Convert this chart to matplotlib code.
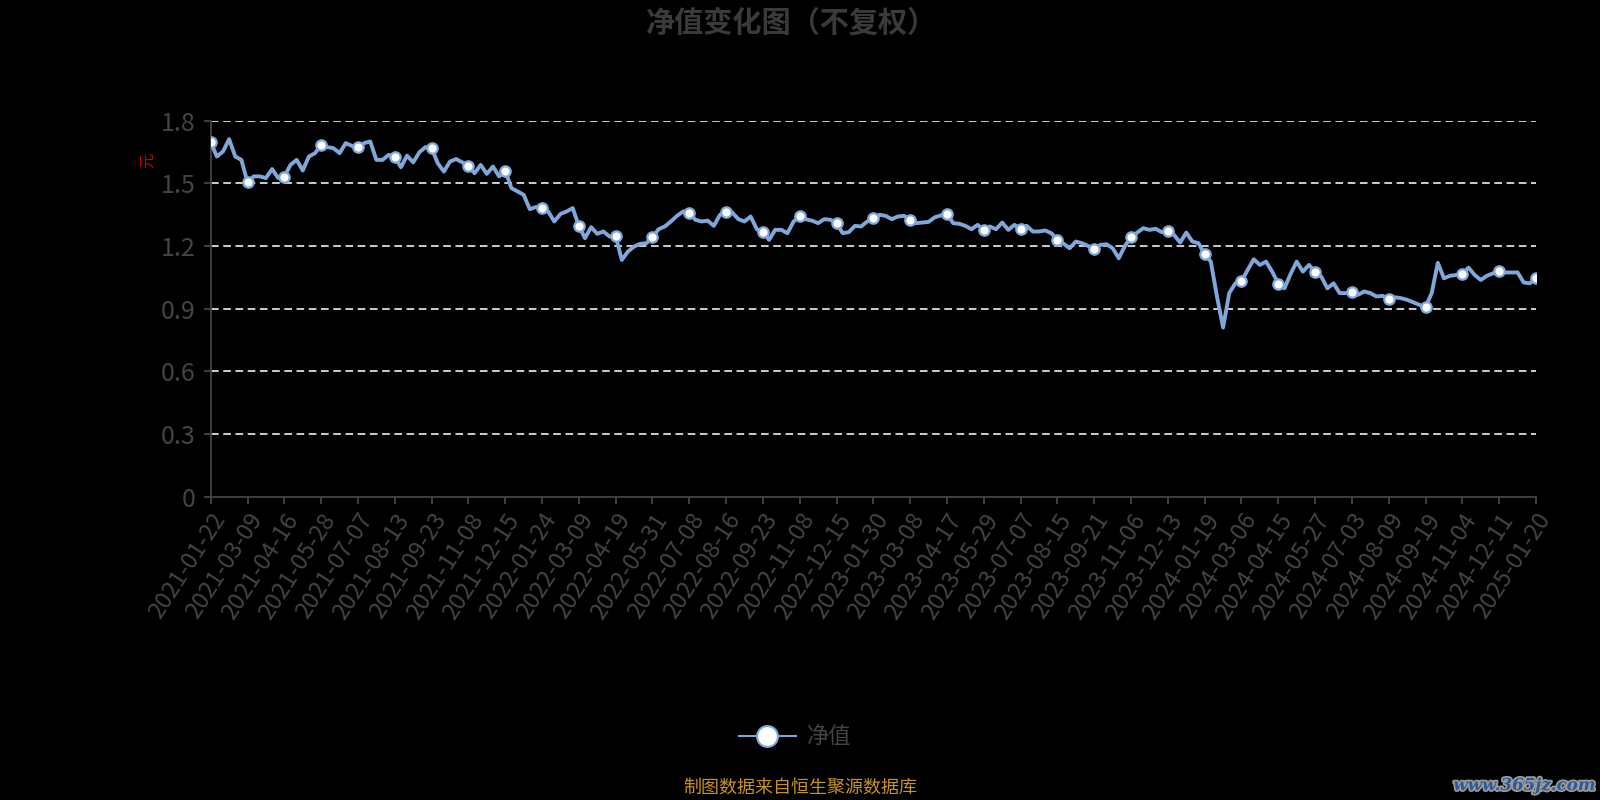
import matplotlib
matplotlib.use("Agg")
import matplotlib.pyplot as plt
import matplotlib.patheffects as pe

plt.rcParams['font.family'] = ['Noto Sans CJK SC', 'DejaVu Sans']
plt.rcParams['lines.scale_dashes'] = False

# tick dates (category axis, one marker per tick)
tick_dates = [
    "2021-01-22", "2021-03-09", "2021-04-16", "2021-05-28", "2021-07-07", "2021-08-13",
    "2021-09-23", "2021-11-08", "2021-12-15", "2022-01-24", "2022-03-09", "2022-04-19",
    "2022-05-31", "2022-07-08", "2022-08-16", "2022-09-23", "2022-11-08", "2022-12-15",
    "2023-01-30", "2023-03-08", "2023-04-17", "2023-05-29", "2023-07-07", "2023-08-15",
    "2023-09-21", "2023-11-06", "2023-12-13", "2024-01-19", "2024-03-06", "2024-04-15",
    "2024-05-27", "2024-07-03", "2024-08-09", "2024-09-19", "2024-11-04", "2024-12-11",
    "2025-01-20",
]
steps_per_tick = 6

# net value, 6 points per tick interval
nav = [
    1.698, 1.629, 1.653, 1.712, 1.629, 1.613,
    1.505, 1.534, 1.534, 1.526, 1.569, 1.526,
    1.533, 1.589, 1.613, 1.562, 1.629, 1.645,
    1.684, 1.674, 1.669, 1.645, 1.693, 1.680,
    1.674, 1.693, 1.701, 1.613, 1.613, 1.637,
    1.626, 1.578, 1.633, 1.601, 1.649, 1.674,
    1.669, 1.597, 1.557, 1.605, 1.617, 1.601,
    1.585, 1.549, 1.589, 1.546, 1.581, 1.534,
    1.562, 1.478, 1.462, 1.446, 1.377, 1.387,
    1.382, 1.366, 1.318, 1.354, 1.366, 1.382,
    1.297, 1.238, 1.291, 1.259, 1.270, 1.246,
    1.248, 1.134, 1.174, 1.198, 1.211, 1.214,
    1.243, 1.281, 1.294, 1.318, 1.345, 1.366,
    1.359, 1.326, 1.318, 1.322, 1.297, 1.350,
    1.364, 1.361, 1.329, 1.318, 1.342, 1.281,
    1.268, 1.230, 1.278, 1.278, 1.262, 1.318,
    1.342, 1.329, 1.322, 1.310, 1.329, 1.326,
    1.310, 1.262, 1.267, 1.297, 1.294, 1.318,
    1.335, 1.350, 1.345, 1.329, 1.342, 1.345,
    1.327, 1.310, 1.313, 1.316, 1.338, 1.347,
    1.356, 1.310, 1.307, 1.297, 1.281, 1.302,
    1.276, 1.294, 1.281, 1.313, 1.278, 1.302,
    1.281, 1.297, 1.270, 1.270, 1.275, 1.262,
    1.231, 1.211, 1.190, 1.222, 1.214, 1.201,
    1.185, 1.206, 1.209, 1.190, 1.142, 1.201,
    1.243, 1.265, 1.286, 1.278, 1.283, 1.267,
    1.273, 1.254, 1.217, 1.265, 1.222, 1.214,
    1.160, 1.126, 0.959, 0.810, 0.975, 1.022,
    1.034, 1.086, 1.137, 1.110, 1.126, 1.078,
    1.021, 0.998, 1.067, 1.126, 1.078, 1.110,
    1.077, 1.054, 0.998, 1.022, 0.975, 0.975,
    0.982, 0.967, 0.983, 0.975, 0.959, 0.962,
    0.947, 0.955, 0.951, 0.943, 0.931, 0.919,
    0.909, 0.975, 1.120, 1.046, 1.058, 1.062,
    1.067, 1.097, 1.062, 1.038, 1.058, 1.070,
    1.081, 1.074, 1.074, 1.074, 1.026, 1.022,
    1.047,
]
y_ticks = [0, 0.3, 0.6, 0.9, 1.2, 1.5, 1.8]
y_labels = ["0", "0.3", "0.6", "0.9", "1.2", "1.5", "1.8"]

line_color = "#7fa7da"
axis_color = "#444444"
text_color = "#444444"

fig = plt.figure(figsize=(16, 8), dpi=100, facecolor="black")
ax = fig.add_axes([0.1317, 0.379, 0.8283, 0.470])
ax.set_facecolor("black")

xs = list(range(len(nav)))
ax.plot(xs, nav, color=line_color, lw=2.8, zorder=3, solid_joinstyle="round")
mk = xs[::steps_per_tick]
ax.plot(mk, [nav[i] for i in mk], ls="none", marker="o", markersize=7.5,
        markerfacecolor="white", markeredgecolor=line_color, markeredgewidth=1.6, zorder=4)

for v in y_ticks[1:]:
    ax.axhline(v, color="#dddddd", lw=1.3, dashes=(5.5, 3.3), zorder=1)

ax.set_xlim(0, len(nav) - 1)
ax.set_ylim(0, 1.8)
ax.set_yticks(y_ticks)
ax.set_yticklabels(y_labels)
ax.set_xticks(mk)
ax.set_xticklabels(tick_dates, rotation=57, ha="right", va="top", rotation_mode="anchor")

for s in ["top", "right"]:
    ax.spines[s].set_visible(False)
for s in ["left", "bottom"]:
    ax.spines[s].set_color(axis_color)
    ax.spines[s].set_linewidth(1.3)
ax.tick_params(axis="both", colors=axis_color, length=5, width=1.3)
ax.tick_params(axis="y", labelsize=18, labelcolor=text_color, pad=6)
ax.tick_params(axis="x", labelsize=17, labelcolor=text_color, pad=4)

fig.text(0.0925, 0.799, "元", color="#cc0000", fontsize=11, rotation=90,
         ha="center", va="center")

fig.text(0.495, 0.972, "净值变化图（不复权）", color="#3a3a3a", fontsize=21,
         fontweight="bold", ha="center", va="center")

# legend
leg = fig.legend(handles=[plt.Line2D([0], [0], color=line_color, lw=1.5, marker="o", markersize=15,
                                     markerfacecolor="white", markeredgecolor=line_color,
                                     markeredgewidth=1.5)],
                 labels=["净值"], loc="center", bbox_to_anchor=(0.497, 0.079),
                 frameon=False, fontsize=16, handlelength=2.6, handletextpad=0.5)
for t in leg.get_texts():
    t.set_color(text_color)

fig.text(0.5, 0.015, "制图数据来自恒生聚源数据库", color="#c8921e", fontsize=13,
         ha="center", va="center")

fig.text(0.997, 0.018, "www.365jz.com", color="#2c5a9c", fontsize=12, fontweight="bold",
         fontstyle="italic", family="DejaVu Serif", ha="right", va="center",
         path_effects=[pe.withStroke(linewidth=2.5, foreground="#9a9a9a")])

fig.savefig("out.png", dpi=100, facecolor="black")
